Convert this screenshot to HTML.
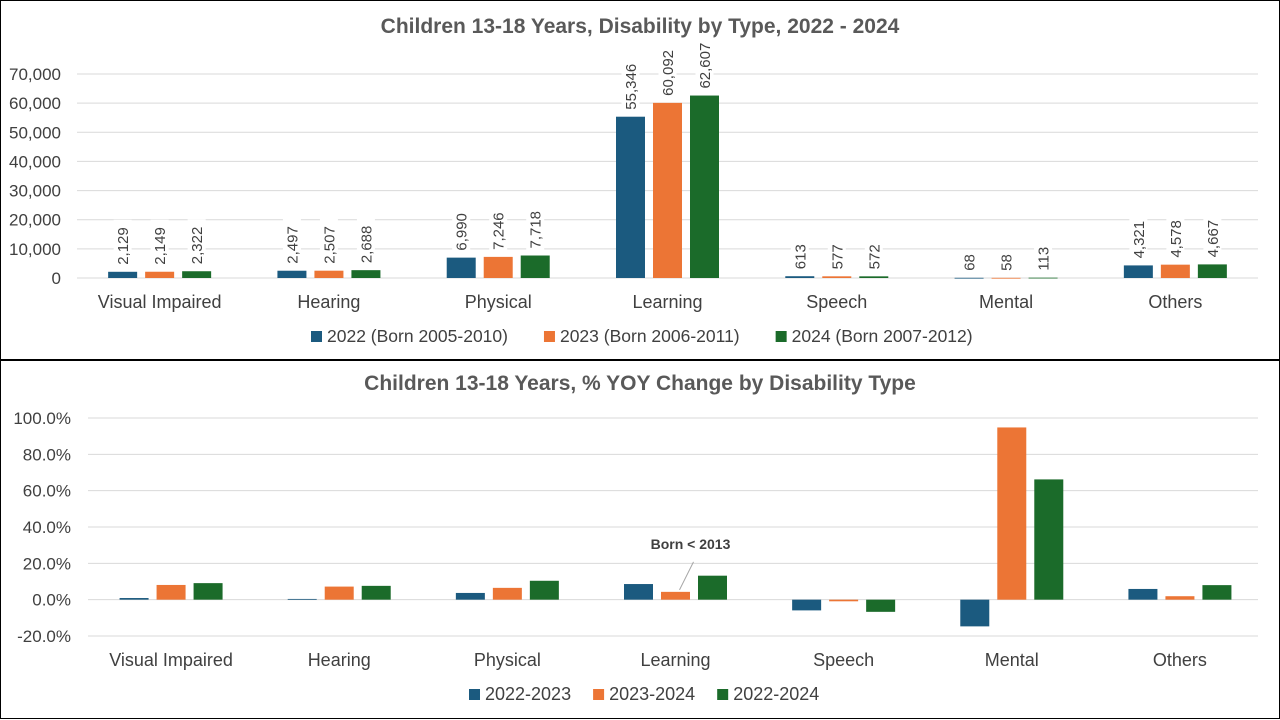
<!DOCTYPE html>
<html><head><meta charset="utf-8"><style>
body{margin:0;width:1280px;height:720px;background:#fff;overflow:hidden;font-family:"Liberation Sans",Arial,sans-serif}
svg{display:block}
</style></head><body>
<svg id="c" width="1280" height="720" xmlns="http://www.w3.org/2000/svg"></svg>
<script>
const categories=["Visual Impaired","Hearing","Physical","Learning","Speech","Mental","Others"];
const series1Names=["2022 (Born 2005-2010)","2023 (Born 2006-2011)","2024 (Born 2007-2012)"];
const v2022=[2129,2497,6990,55346,613,68,4321];
const v2023=[2149,2507,7246,60092,577,58,4578];
const v2024=[2322,2688,7718,62607,572,113,4667];
const ticks1=[0,10000,20000,30000,40000,50000,60000,70000];
const series2Names=["2022-2023","2023-2024","2022-2024"];
const y2223=[0.9,0.4,3.7,8.6,-5.9,-14.7,5.9];
const y2324=[8.1,7.2,6.5,4.3,-0.9,94.8,1.9];
const y2224=[9.1,7.6,10.4,13.2,-6.7,66.2,8.0];
const ticks2=[-20,0,20,40,60,80,100];
const colors=["#1b5a7f","#ec7535","#1b6b2a"];
const S=document.getElementById('c');const NS="http://www.w3.org/2000/svg";
function mk(t,a,txt){const e=document.createElementNS(NS,t);for(const k in a)e.setAttribute(k,a[k]);if(txt!==undefined)e.textContent=txt;S.appendChild(e);return e;}
let b=mk('rect',{x:0.5,y:0.5,width:1279,height:359,fill:'none',stroke:'#000'});

b=mk('rect',{x:0.5,y:360.5,width:1279,height:358,fill:'none',stroke:'#000'});


function chart(o){
  const yS=v=>o.y0+(v-o.tmin)/(o.tmax-o.tmin)*(o.y1-o.y0);
  const step=(o.right-o.left)/categories.length;
  const xC=i=>o.left+step*(i+0.5);
  let t=mk('text',{x:640,y:o.titleY,'text-anchor':'middle','font-size':21,'font-weight':'bold',fill:'#595959'},o.title);
  
  o.ticks.forEach(v=>{
    const y=yS(v);
    let l=mk('line',{x1:o.gx,x2:1258,y1:y,y2:y,stroke:'#d9d9d9'});
    
    let tx=mk('text',{x:o.lx,y:y+6,'text-anchor':'end','font-size':17,fill:'#404040'},o.fmt(v));
    
  });
  categories.forEach((c,i)=>{
    let tx=mk('text',{x:xC(i),y:o.catY,'text-anchor':'middle','font-size':18,fill:'#404040'},c);
    
    o.data.forEach((arr,s)=>{
      const v=arr[i];const x=xC(i)+(s-1)*37-14.5;
      const ya=yS(v),yz=yS(0);
      let r=mk('rect',{x:x,y:Math.min(ya,yz),width:29,height:Math.max(Math.abs(yz-ya),0.8),fill:colors[s]});
      
      if(o.labels){
        const lab=v.toLocaleString('en-US');
        const cx=x+14.5,by=ya-5;
        const w=lab.length*8.6+4;
        let bg=mk('rect',{x:cx-9,y:by-w,width:18,height:w,fill:'#fff'});
        
        let lt=mk('text',{x:cx+5.5,y:by-2,'font-size':15,fill:'#404040',transform:`rotate(-90 ${cx+5.5} ${by-2})`},lab);
        
      }
    });
  });
  let x=o.legX;
  o.names.forEach((n,s)=>{
    let r=mk('rect',{x:x,y:o.legY-11,width:11,height:11,fill:colors[s]});
    
    let tx=mk('text',{x:x+16,y:o.legY,'font-size':o.legFs,fill:'#404040'},n);
    
    x+=tx.getComputedTextLength()+o.legGap;
  });
  return {yS,xC};
}
chart({pre:'top',title:'Children 13-18 Years, Disability by Type, 2022 - 2024',titleY:33,y0:278,y1:74,tmin:0,tmax:70000,ticks:ticks1,
  fmt:v=>v.toLocaleString('en-US'),left:75,right:1260,gx:77,lx:61,catY:308,data:[v2022,v2023,v2024],labels:true,names:series1Names,legX:311,legY:342,legFs:17.5,legGap:52});
const c2=chart({pre:'bottom',title:'Children 13-18 Years, % YOY Change by Disability Type',titleY:390,y0:636,y1:418,tmin:-20,tmax:100,ticks:ticks2,
  fmt:v=>v.toFixed(1)+'%',left:87,right:1264,gx:88,lx:71,catY:666,data:[y2223,y2324,y2224],labels:false,names:series2Names,legX:469,legY:700,legFs:18,legGap:38});
const ax=c2.xC(3),ay=c2.yS(y2324[3]);
let al=mk('line',{x1:ax+4,y1:ay-2,x2:ax+18,y2:ay-30,stroke:'#a6a6a6'});

let at=mk('text',{x:ax+15,y:ay-43,'text-anchor':'middle','font-size':14,'font-weight':'bold',fill:'#404040'},'Born < 2013');

</script>
</body></html>
